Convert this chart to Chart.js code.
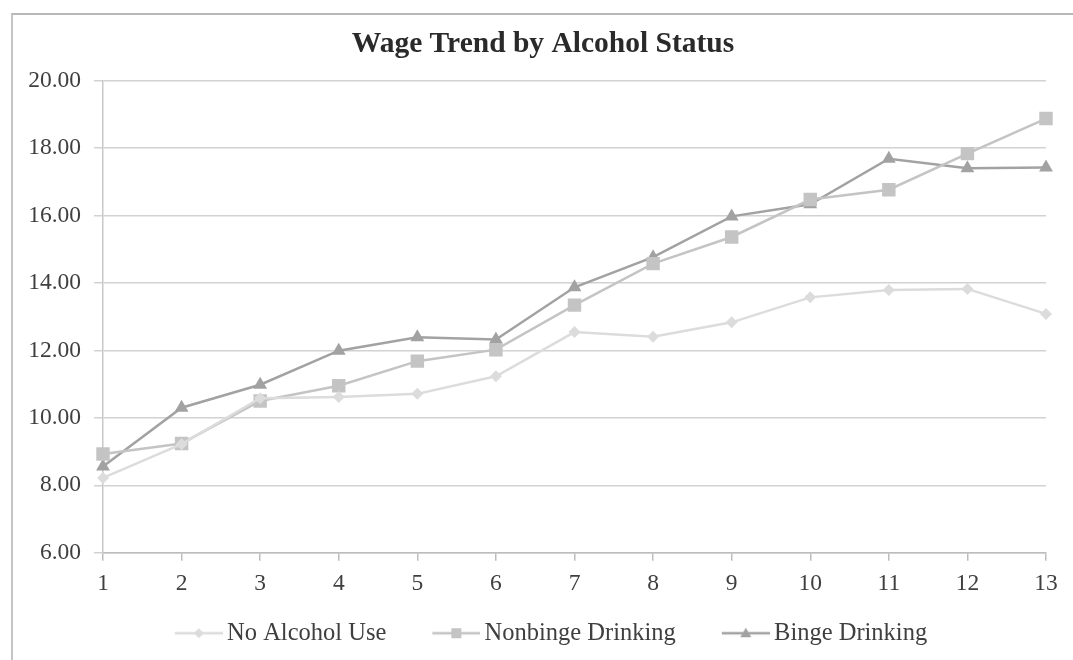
<!DOCTYPE html>
<html>
<head>
<meta charset="utf-8">
<script src="https://cdn.jsdelivr.net/npm/chart.js@4"></script>
<style>
  html, body { margin: 0; padding: 0; background: #fff; }
  body { width: 1073px; height: 660px; position: relative; overflow: hidden; }
  #frame {
    position: absolute; left: 11px; top: 13px; width: 1100px; height: 700px;
    border-left: 2px solid #c4c4c4; border-top: 2px solid #b8b8b8;
  }
  #wrap { position: absolute; left: 0; top: 0; width: 1073px; height: 660px; }
</style>
</head>
<body>
<div id="frame"></div>
<div id="wrap"><canvas id="wageChart" width="1073" height="660"></canvas></div>
<script>
// Wage trend data
const periods = ['1', '2', '3', '4', '5', '6', '7', '8', '9', '10', '11', '12', '13'];
const noAlcohol = [8.22, 9.22, 10.58, 10.62, 10.71, 11.23, 12.54, 12.4, 12.83, 13.57, 13.79, 13.82, 13.08];
const nonbinge = [8.93, 9.24, 10.5, 10.95, 11.68, 12.02, 13.34, 14.57, 15.36, 16.47, 16.76, 17.83, 18.87];
const binge = [8.56, 10.3, 10.98, 11.99, 12.39, 12.32, 13.87, 14.76, 15.97, 16.33, 17.68, 17.4, 17.42];
const yTicks = [6, 8, 10, 12, 14, 16, 18, 20];

const serif = "'Liberation Serif', 'Times New Roman', serif";
const textColor = '#3f3f3f';

// legend symbol: line with a marker in the middle, drawn in the right part
// of a wider transparent canvas so it sits close to its label
function legendSymbol(color, style) {
    const c = document.createElement('canvas');
    c.width = 84;
    c.height = 16;
    const g = c.getContext('2d');
    const cx = 60;
    g.strokeStyle = color;
    g.fillStyle = color;
    g.lineWidth = 2.5;
    g.beginPath();
    g.moveTo(36, 8);
    g.lineTo(84, 8);
    g.stroke();
    g.beginPath();
    if (style === 'rect') {
        g.rect(cx - 5, 3, 10, 10);
    } else if (style === 'triangle') {
        g.moveTo(cx, 2.5);
        g.lineTo(cx + 5.5, 12);
        g.lineTo(cx - 5.5, 12);
        g.closePath();
    } else {
        g.moveTo(cx, 3);
        g.lineTo(cx + 5, 8);
        g.lineTo(cx, 13);
        g.lineTo(cx - 5, 8);
        g.closePath();
    }
    g.fill();
    return c;
}

const series = [
    { label: 'No Alcohol Use', data: noAlcohol, color: '#dcdcdc', style: 'rectRot', radius: 6 },
    { label: 'Nonbinge Drinking', data: nonbinge, color: '#c4c4c4', style: 'rect', radius: 9.5 },
    { label: 'Binge Drinking', data: binge, color: '#a2a2a2', style: 'triangle', radius: 8 }
];

// the symbols carry blank space on their left, pull the legend row back a bit
const legendNudge = {
    id: 'legendNudge',
    afterLayout(chart) {
        chart.legend.left -= 6;
        chart.legend.right -= 6;
    }
};

new Chart(document.getElementById('wageChart'), {
    type: 'line',
    data: {
        labels: periods,
        datasets: series.map(s => ({
            label: s.label,
            data: s.data,
            borderColor: s.color,
            backgroundColor: s.color,
            borderWidth: 2.5,
            pointStyle: s.style,
            pointRadius: s.radius,
            pointBorderWidth: 0,
            pointBackgroundColor: s.color,
            tension: 0,
            fill: false
        }))
    },
    plugins: [legendNudge],
    options: {
        responsive: false,
        animation: false,
        devicePixelRatio: 1,
        layout: { padding: { left: 13, right: 0, top: 14, bottom: 4.5 } },
        plugins: {
            title: {
                display: true,
                text: 'Wage Trend by Alcohol Status',
                color: '#2a2a2a',
                font: { family: serif, size: 29.5, weight: 'bold' },
                padding: { top: 13, bottom: 18 }
            },
            legend: {
                position: 'bottom',
                labels: {
                    color: textColor,
                    font: { family: serif, size: 24.5 },
                    usePointStyle: true,
                    pointStyleWidth: 68,
                    padding: 18,
                    generateLabels: chart => series.map((s, i) => ({
                        text: s.label,
                        pointStyle: legendSymbol(s.color, s.style),
                        fillStyle: s.color,
                        strokeStyle: s.color,
                        lineWidth: 0,
                        fontColor: textColor,
                        datasetIndex: i
                    }))
                }
            },
            tooltip: { enabled: false }
        },
        scales: {
            x: {
                offset: false,
                grid: {
                    display: true,
                    drawOnChartArea: false,
                    drawTicks: true,
                    tickLength: 8,
                    color: '#bdbdbd',
                    lineWidth: 1.5
                },
                border: { display: true, color: '#bdbdbd', width: 1.5 },
                ticks: {
                    color: textColor,
                    font: { family: serif, size: 23.5 },
                    padding: 9,
                    maxRotation: 0,
                    autoSkip: false
                },
                afterFit: scale => { scale.height -= 4; }
            },
            y: {
                min: 6,
                max: 20,
                afterBuildTicks: scale => { scale.ticks = yTicks.map(v => ({ value: v })); },
                grid: {
                    color: '#d2d2d2',
                    lineWidth: 1.5,
                    tickLength: 9,
                    drawTicks: true
                },
                border: { display: true, color: '#c8c8c8', width: 1.5 },
                ticks: {
                    color: textColor,
                    font: { family: serif, size: 23.5 },
                    padding: 13,
                    callback: v => Number(v).toFixed(2)
                },
                afterFit: scale => { scale.width = 90; }
            },
            // empty axis on the right, only keeps the plot edge where it is
            yRight: {
                position: 'right',
                min: 6,
                max: 20,
                grid: { display: false },
                border: { display: false },
                ticks: { display: false },
                afterFit: scale => { scale.width = 27; }
            }
        }
    }
});
</script>
</body>
</html>
